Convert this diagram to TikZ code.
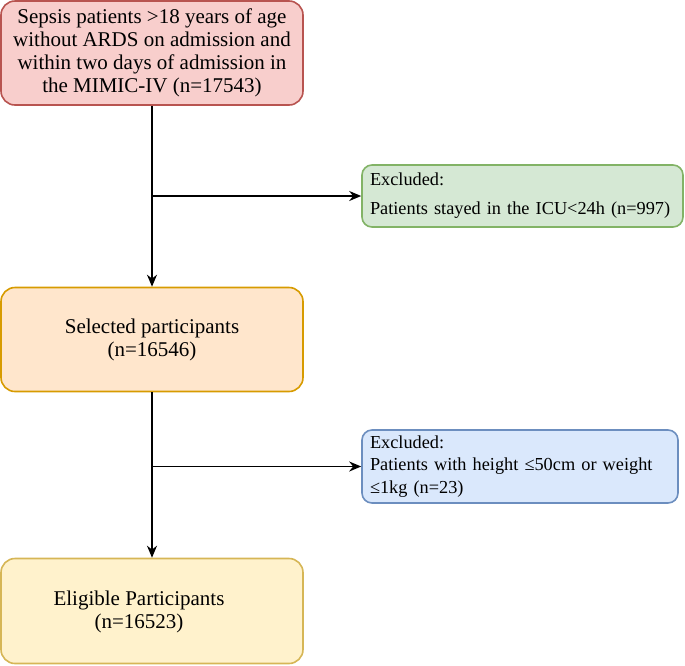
\documentclass[tikz,border=0pt]{standalone}
\usepackage{fontspec}
\setmainfont{Liberation Serif}
\usetikzlibrary{arrows.meta,positioning}
\definecolor{redfill}{HTML}{F8CECC}\definecolor{reddraw}{HTML}{B85450}
\definecolor{orangefill}{HTML}{FFE6CC}\definecolor{orangedraw}{HTML}{D79B00}
\definecolor{yellowfill}{HTML}{FFF2CC}\definecolor{yellowdraw}{HTML}{D6B656}
\definecolor{greenfill}{HTML}{D5E8D4}\definecolor{greendraw}{HTML}{82B366}
\definecolor{bluefill}{HTML}{DAE8FC}\definecolor{bluedraw}{HTML}{6C8EBF}
\tikzset{>={Stealth[length=12pt,width=10pt]}}
\tikzset{mainbox/.style={rounded corners=14pt,line width=1.6pt,minimum width=302pt,
        minimum height=104pt,align=center,font=\fontsize{21}{23}\selectfont}}
\tikzset{exclbox/.style={rounded corners=10pt,line width=1.6pt,align=left,inner xsep=8pt,
        font=\fontsize{18.3}{22.5}\selectfont}}
\tikzset{flow/.style={->,line width=1.6pt}}

\begin{document}
\begin{tikzpicture}[x=1pt,y=-1pt]
                \useasboundingbox (0,0) rectangle (685,665);
                \node[mainbox,fill=redfill,draw=reddraw] (sepsis) at (152,53)
                    {Sepsis patients >18 years of age\\without ARDS on admission and\\within two days of admission in\\the MIMIC-IV (n=17543)};
                \node[mainbox,fill=orangefill,draw=orangedraw] (sel) at (152,339.5)
                    {Selected participants\\(n=16546)};
                \node[mainbox,fill=yellowfill,draw=yellowdraw,minimum height=105pt] (elig) at (152,611) {};
                \node[align=center,font=\fontsize{21}{23}\selectfont] (eligtext) at (139,612)
                    {Eligible Participants\\(n=16523)};
                \node[exclbox,fill=greenfill,draw=greendraw,minimum width=321pt,minimum height=62pt,
                    text width=305pt,font=\fontsize{18.3}{29}\selectfont] (excl1) at (522.5,196)
                    {Excluded:\\Patients stayed in the ICU<24h (n=997)};
                \node[exclbox,fill=bluefill,draw=bluedraw,minimum width=316pt,minimum height=73pt,
                    text width=300pt] (excl2) at (520,466.5)
                    {Excluded:\\Patients with height ≤50cm or weight\\≤1kg (n=23)};
                \coordinate (b1) at (sepsis.south |- excl1.west);
                \coordinate (b2) at (sel.south |- excl2.west);
                \draw[flow] (sepsis) -- (sel);
                \draw[flow] (sel) -- (elig);
                \draw[flow] (b1) -- (excl1);
                \draw[flow] (b2) -- (excl2);
            \end{tikzpicture}
\end{document}
